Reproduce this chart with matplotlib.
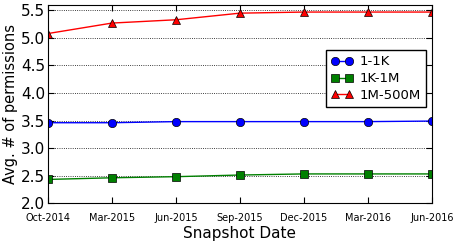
import numpy as np
import matplotlib
matplotlib.use("Agg")
from matplotlib import pyplot as plt
from matplotlib.ticker import FormatStrFormatter

dates = ["Oct-2014", "Mar-2015", "Jun-2015", "Sep-2015", "Dec-2015", "Mar-2016", "Jun-2016"]
small = [3.46, 3.46, 3.48, 3.48, 3.48, 3.48, 3.49]
medium = [2.43, 2.46, 2.48, 2.51, 2.53, 2.53, 2.53]
large = [5.08, 5.27, 5.33, 5.45, 5.47, 5.47, 5.47]

fig = plt.figure(figsize=(4.57, 2.45), dpi=100)
ax = fig.add_axes([0.105, 0.171, 0.840, 0.809])
x = np.arange(len(dates))

# classic look: thin lines, black-edged markers
ax.plot(x, small, color='b', marker='o', markersize=6, markeredgecolor='k',
        markeredgewidth=0.5, linewidth=1, label='1-1K')
ax.plot(x, medium, color='g', marker='s', markersize=6, markeredgecolor='k',
        markeredgewidth=0.5, linewidth=1, label='1K-1M')
ax.plot(x, large, color='r', marker='^', markersize=6, markeredgecolor='k',
        markeredgewidth=0.5, linewidth=1, label='1M-500M')

ax.set_xlim(0, len(dates) - 1)
ax.set_ylim(2.0, 5.6)
ax.set_yticks([2.0, 2.5, 3.0, 3.5, 4.0, 4.5, 5.0, 5.5])
ax.yaxis.set_major_formatter(FormatStrFormatter('%.1f'))
ax.set_xticks(x)
ax.set_xticklabels(dates, fontsize=7)
ax.tick_params(axis='y', labelsize=11, pad=2)
ax.tick_params(axis='x', pad=7)
ax.tick_params(direction='in', top=True, right=True, length=4)
ax.yaxis.grid(True, linestyle=':', color='k', linewidth=0.6)
ax.set_xlabel('Snapshot Date', fontsize=11, labelpad=2)
ax.set_ylabel('Avg. # of permissions', fontsize=10.5, labelpad=2)

leg = ax.legend(loc='upper right', bbox_to_anchor=(0.984, 0.773), numpoints=2,
                fancybox=False, fontsize=9.5, handlelength=1.6, borderaxespad=0,
                labelspacing=0.3, handletextpad=0.5, framealpha=1)
leg.get_frame().set_edgecolor('k')

plt.savefig('out.png', dpi=100)
